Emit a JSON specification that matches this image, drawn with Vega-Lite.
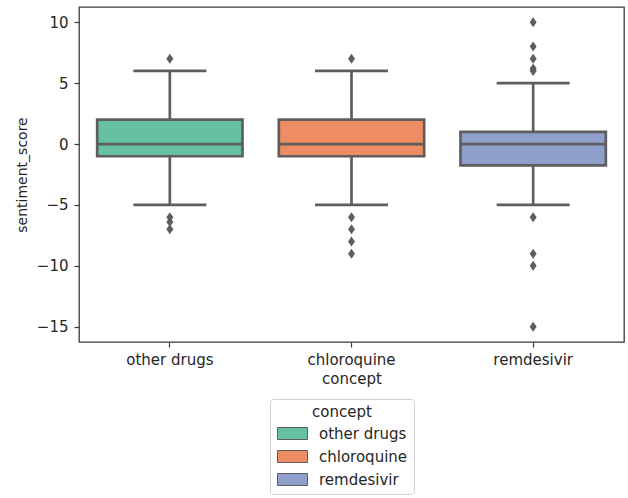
{
  "$schema": "https://vega.github.io/schema/vega-lite/v6.json",
  "width": 545,
  "height": 335,
  "autosize": {"type": "none"},
  "padding": {"left": 79, "top": 7, "right": 4, "bottom": 156},
  "background": "white",
  "config": {
    "view": {"stroke": "#3a3a3a", "strokeWidth": 1.3},
    "font": "DejaVu Sans",
    "axis": {
      "labelFont": "DejaVu Sans",
      "titleFont": "DejaVu Sans",
      "labelFontSize": 15,
      "titleFontSize": 15,
      "labelColor": "#262626",
      "titleColor": "#262626",
      "titleFontWeight": "normal",
      "tickColor": "#3a3a3a",
      "tickSize": 5,
      "tickWidth": 1.2,
      "domain": false,
      "grid": false
    }
  },
  "datasets": {
    "boxes": [
      {"concept": "other drugs", "lo": -5, "q1": -1, "median": 0, "q3": 2, "hi": 6},
      {"concept": "chloroquine", "lo": -5, "q1": -1, "median": 0, "q3": 2, "hi": 6},
      {"concept": "remdesivir", "lo": -5, "q1": -1.75, "median": 0, "q3": 1, "hi": 5}
    ],
    "outliers": [
      {"concept": "other drugs", "sentiment_score": 7},
      {"concept": "other drugs", "sentiment_score": -6},
      {"concept": "other drugs", "sentiment_score": -6.4},
      {"concept": "other drugs", "sentiment_score": -7},
      {"concept": "chloroquine", "sentiment_score": 7},
      {"concept": "chloroquine", "sentiment_score": -6},
      {"concept": "chloroquine", "sentiment_score": -7},
      {"concept": "chloroquine", "sentiment_score": -8},
      {"concept": "chloroquine", "sentiment_score": -9},
      {"concept": "remdesivir", "sentiment_score": 10},
      {"concept": "remdesivir", "sentiment_score": 8},
      {"concept": "remdesivir", "sentiment_score": 7},
      {"concept": "remdesivir", "sentiment_score": 6.2},
      {"concept": "remdesivir", "sentiment_score": 6},
      {"concept": "remdesivir", "sentiment_score": -6},
      {"concept": "remdesivir", "sentiment_score": -9},
      {"concept": "remdesivir", "sentiment_score": -10},
      {"concept": "remdesivir", "sentiment_score": -15}
    ]
  },
  "layer": [
    {
      "data": {"name": "boxes"},
      "mark": {"type": "rule", "color": "#5e5e5e", "strokeWidth": 2.7},
      "encoding": {
        "x": {"field": "concept", "type": "nominal", "sort": ["other drugs", "chloroquine", "remdesivir"],
              "scale": {"paddingInner": 0, "paddingOuter": 0},
              "axis": {"labelAngle": 0, "title": "concept", "labelPadding": 5, "titlePadding": 4}},
        "y": {"field": "lo", "type": "quantitative",
              "scale": {"domain": [-16.25, 11.25], "nice": false, "zero": false},
              "axis": {"values": [-15, -10, -5, 0, 5, 10], "title": "sentiment_score", "titleFontSize": 14, "labelPadding": 6, "titlePadding": 7}},
        "y2": {"field": "hi"}
      }
    },
    {
      "data": {"name": "boxes"},
      "mark": {"type": "tick", "color": "#5e5e5e", "thickness": 2.7, "size": 73, "opacity": 1},
      "encoding": {
        "x": {"field": "concept", "type": "nominal", "sort": ["other drugs", "chloroquine", "remdesivir"]},
        "y": {"field": "lo", "type": "quantitative"}
      }
    },
    {
      "data": {"name": "boxes"},
      "mark": {"type": "tick", "color": "#5e5e5e", "thickness": 2.7, "size": 73, "opacity": 1},
      "encoding": {
        "x": {"field": "concept", "type": "nominal", "sort": ["other drugs", "chloroquine", "remdesivir"]},
        "y": {"field": "hi", "type": "quantitative"}
      }
    },
    {
      "data": {"name": "boxes"},
      "mark": {"type": "bar", "stroke": "#5e5e5e", "strokeWidth": 2.7, "width": {"band": 0.8}, "opacity": 1},
      "encoding": {
        "x": {"field": "concept", "type": "nominal", "sort": ["other drugs", "chloroquine", "remdesivir"]},
        "y": {"field": "q1", "type": "quantitative"},
        "y2": {"field": "q3"},
        "color": {
          "field": "concept", "type": "nominal",
          "sort": ["other drugs", "chloroquine", "remdesivir"],
          "scale": {"domain": ["other drugs", "chloroquine", "remdesivir"], "range": ["#66c0a2", "#ee8c63", "#8e9fcb"]},
          "legend": {
            "title": "concept",
            "orient": "none",
            "legendX": 191,
            "legendY": 392,
            "direction": "vertical",
            "padding": 6,
            "strokeColor": "#d0d0d0",
            "fillColor": "white",
            "cornerRadius": 3,
            "titleFont": "DejaVu Sans",
            "titleFontSize": 15,
            "titleFontWeight": "normal",
            "titleColor": "#262626",
            "titleAnchor": "middle",
            "titlePadding": 6,
            "labelFont": "DejaVu Sans",
            "labelFontSize": 15,
            "labelColor": "#262626",
            "labelOffset": 28,
            "rowPadding": 6,
            "symbolType": "M-1,-1H4V1H-1Z",
            "symbolSize": 144,
            "symbolStrokeColor": "#5e5e5e",
            "symbolStrokeWidth": 1,
            "symbolOpacity": 1
          }
        }
      }
    },
    {
      "data": {"name": "boxes"},
      "mark": {"type": "tick", "color": "#5e5e5e", "thickness": 2.7, "size": 145, "opacity": 1},
      "encoding": {
        "x": {"field": "concept", "type": "nominal", "sort": ["other drugs", "chloroquine", "remdesivir"]},
        "y": {"field": "median", "type": "quantitative"}
      }
    },
    {
      "data": {"name": "outliers"},
      "mark": {"type": "point", "filled": true, "color": "#5e5e5e", "opacity": 1, "size": 100, "shape": "M0,-1L0.7,0L0,1L-0.7,0Z"},
      "encoding": {
        "x": {"field": "concept", "type": "nominal", "sort": ["other drugs", "chloroquine", "remdesivir"]},
        "y": {"field": "sentiment_score", "type": "quantitative"}
      }
    }
  ]
}
